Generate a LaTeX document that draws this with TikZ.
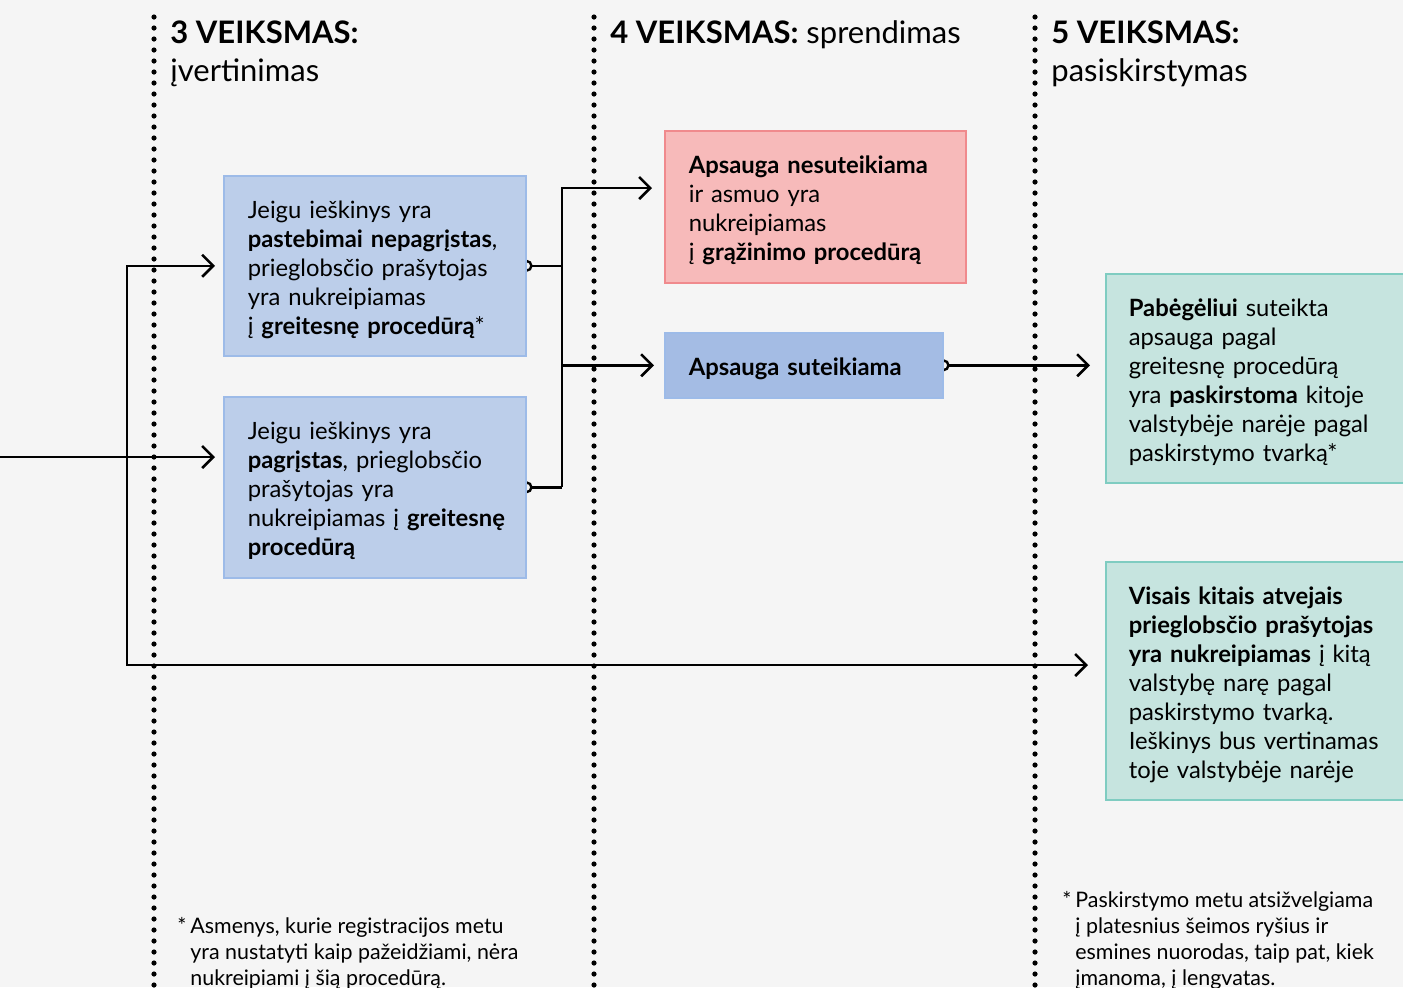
\documentclass[tikz,border=0pt]{standalone}
\usepackage{fontspec}
\setmainfont{Lato}
\usetikzlibrary{arrows.meta,positioning}
\definecolor{bgpaper}{HTML}{F5F5F5}
\definecolor{bluefill}{HTML}{BCCEEA}
\definecolor{blueline}{HTML}{9DBBE8}
\definecolor{okfill}{HTML}{A4BCE4}
\definecolor{redfill}{HTML}{F7BABA}
\definecolor{redline}{HTML}{F08A8D}
\definecolor{greenfill}{HTML}{C6E4DF}
\definecolor{greenline}{HTML}{7FCCC1}
\pgfdeclarelayer{paper}
\pgfdeclarelayer{lines}
\pgfsetlayers{paper,lines,main}

\begin{document}
\begin{tikzpicture}[x=0.5pt,y=-0.5pt,
  barb/.tip={Straight Barb[length=5.5pt,width=11pt,line width=1.3pt]},
  ring/.tip={Circle[open,length=6pt,line width=1.2pt]},
  box/.style={draw,line width=0.8pt,anchor=north west,inner xsep=12pt,inner ysep=0pt,
    align=left,font=\fontsize{11.9}{14.5}\selectfont,execute at begin node={\rule{0pt}{12.5pt}}},
  head/.style={anchor=base west,inner sep=0pt,font=\fontsize{15.5}{19}\selectfont},
  note/.style={anchor=north west,inner sep=0pt,align=left,font=\fontsize{10.7}{13}\selectfont},
  dots/.style={line width=2.6pt,line cap=round,dash pattern=on 0pt off 5.5pt},
  arr/.style={line width=1.3pt,-barb,shorten >=4pt},
  tail/.style={line width=1.3pt,ring-,shorten <=-3pt},
  tailarr/.style={line width=1.3pt,ring-barb,shorten <=-3pt,shorten >=7.5pt}]
\clip (0,0) rectangle (1403,987);
\begin{pgfonlayer}{paper}
\fill[bgpaper] (0,0) rectangle (1403,987);
\end{pgfonlayer}

% column lines and headings
\draw[dots] (154,17) -- (154,990);
\draw[dots] (594,17) -- (594,990);
\draw[dots] (1035,17) -- (1035,990);
\node[head] (h3) at (170,43) {\textbf{3 VEIKSMAS:}};
\node[head] (h3s) at (170,81) {įvertinimas};
\node[head] (h4) at (610,43) {\textbf{4 VEIKSMAS:} sprendimas};
\node[head] (h5) at (1051,43) {\textbf{5 VEIKSMAS:}};
\node[head] (h5s) at (1051,81) {pasiskirstymas};

% boxes
\node[box,fill=bluefill,draw=blueline,text width=127pt,minimum height=90pt] (fast) at (223,175)
  {Jeigu ieškinys yra\\ \textbf{pastebimai nepagrįstas},\\ prieglobsčio prašytojas\\
   yra nukreipiamas\\ į \textbf{greitesnę procedūrą}*};
\node[box,fill=bluefill,draw=blueline,text width=127pt,minimum height=90.5pt] (valid) at (223,396)
  {Jeigu ieškinys yra\\ \textbf{pagrįstas}, prieglobsčio\\ prašytojas yra\\
   \mbox{nukreipiamas į \textbf{greitesnę}}\\ \textbf{procedūrą}};
\node[box,fill=redfill,draw=redline,text width=126.5pt,minimum height=76pt] (no) at (664,130)
  {\textbf{Apsauga nesuteikiama}\\ ir asmuo yra\\ nukreipiamas\\ į \textbf{grąžinimo procedūrą}};
\node[box,fill=okfill,draw=blueline,text width=115pt,minimum height=32.5pt] (yes) at (664,332)
  {\textbf{Apsauga suteikiama}};
\node[box,fill=greenfill,draw=greenline,inner xsep=11.5pt,text width=140pt,minimum height=104.5pt] (share) at (1105,273)
  {\textbf{Pabėgėliui} suteikta\\ apsauga pagal\\ greitesnę procedūrą\\
   yra \textbf{paskirstoma} kitoje\\ valstybėje narėje pagal\\ paskirstymo tvarką*};
\node[box,fill=greenfill,draw=greenline,inner xsep=11.5pt,text width=140pt,minimum height=119pt] (other) at (1105,561)
  {\textbf{Visais kitais atvejais}\\ \textbf{prieglobsčio prašytojas}\\ \textbf{yra nukreipiamas} į kitą\\
   valstybę narę pagal\\ paskirstymo tvarką.\\ Ieškinys bus vertinamas\\ toje valstybėje narėje};

% footnotes
\node[note] (fn3) at (177,917)
  {\makebox[6.5pt][l]{*}Asmenys, kurie registracijos metu\\ \hspace*{6.5pt}yra nustatyti kaip pažeidžiami, nėra\\
   \hspace*{6.5pt}nukreipiami į šią procedūrą.};
\node[note] (fn5) at (1062,891)
  {\makebox[6.5pt][l]{*}Paskirstymo metu atsižvelgiama\\ \hspace*{6.5pt}į platesnius šeimos ryšius ir\\
   \hspace*{6.5pt}esmines nuorodas, taip pat, kiek\\ \hspace*{6.5pt}įmanoma, į lengvatas.};

% connectors
\coordinate (in) at (0,457);
\coordinate (split) at (127,457);
\coordinate (low) at (127,665);
\coordinate (up) at (562,188);
\begin{pgfonlayer}{lines}
\draw[arr] (in) -- (valid.west |- in);
\draw[arr] (split) |- (fast.west);
\draw[arr,shorten >=8.5pt] (split) -- (low) -- (other.west |- low);
\draw[tail] (fast.east) -- (fast.east -| up);
\draw[tail] (valid.east) -- (valid.east -| up);
\draw[arr,shorten >=6pt] (valid.east -| up) -- (up) -- (no.west |- up);
\draw[arr,shorten >=5pt] (up |- yes.west) -- (yes.west);
\draw[tailarr] (yes.east) -- (share.west |- yes.east);
\end{pgfonlayer}
\end{tikzpicture}
\end{document}
